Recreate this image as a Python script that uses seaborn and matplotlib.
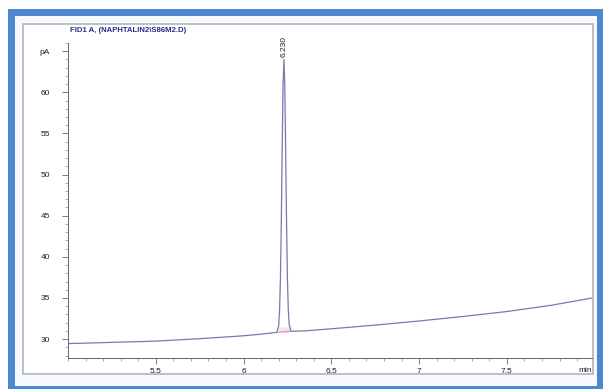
import matplotlib
matplotlib.use("Agg")
import matplotlib.pyplot as plt
from matplotlib.patches import Rectangle
from matplotlib.ticker import MultipleLocator
import seaborn as sns
import pandas as pd

# ---- data ----
time_min = [5.00, 5.25, 5.50, 5.75, 6.00, 6.10, 6.19, 6.20, 6.205, 6.21, 6.215, 6.22,
            6.225, 6.23, 6.235, 6.24, 6.245, 6.25, 6.255, 6.26, 6.27, 6.35, 6.50,
            6.75, 7.00, 7.25, 7.50, 7.75, 8.00]
signal_pA = [29.45, 29.60, 29.75, 30.05, 30.40, 30.60, 30.82, 31.60, 33.40, 37.20, 43.90, 52.90,
             60.80, 64.00, 60.85, 53.00, 44.00, 37.30, 33.50, 31.80, 30.95, 31.00, 31.25,
             31.70, 32.20, 32.75, 33.35, 34.10, 35.05]
integ_time = [6.20, 6.268]
integ_base = [30.84, 30.94]
peak_rt = 6.230
peak_label = "6.230"
x_ticks = [5.5, 6.0, 6.5, 7.0, 7.5]
x_labels = ["5.5", "6", "6.5", "7", "7.5"]
y_ticks = [30, 35, 40, 45, 50, 55, 60, 65]
y_labels = ["30", "35", "40", "45", "50", "55", "60", "pA"]
title = "FID1 A, (NAPHTALIN2\\S86M2.D)"

W, H = 603, 389
sns.set_style("white")
plt.rcParams["font.family"] = ["Liberation Sans", "DejaVu Sans"]

fig = plt.figure(figsize=(W / 100, H / 100), dpi=100)
fig.patch.set_facecolor("white")

def px(x0, y0, x1, y1):
    return (x0 / W, 1 - y1 / H), (x1 - x0) / W, (y1 - y0) / H

# blue outer frame
xy, w, h = px(8, 9, 603, 389)
fig.patches.append(Rectangle(xy, w, h, transform=fig.transFigure, facecolor="#4f86d0",
                             edgecolor="none", zorder=-3))
xy, w, h = px(15, 16, 597, 386)
fig.patches.append(Rectangle(xy, w, h, transform=fig.transFigure, facecolor="#f6f9fd",
                             edgecolor="none", zorder=-2))
xy, w, h = px(23, 24, 593, 374)
fig.patches.append(Rectangle(xy, w, h, transform=fig.transFigure, facecolor="white",
                             edgecolor="#b4b4b8", linewidth=1.2, zorder=-1))

ax = fig.add_axes([68 / W, 1 - 358 / H, (592 - 68) / W, (358 - 43) / H])
ax.set_zorder(5)
ax.set_facecolor("none")

df = pd.DataFrame({"t": time_min, "s": signal_pA})
sns.lineplot(data=df, x="t", y="s", ax=ax, sort=False, estimator=None,
             color="#7878b0", linewidth=0.9)
ax.plot(integ_time, integ_base, color="#e58ac8", linewidth=1.2, alpha=0.8)
ax.fill_between(integ_time, integ_base, [b + 0.6 for b in integ_base],
                color="#f3c6e4", alpha=0.5, linewidth=0)

ax.text(peak_rt, 64.3, peak_label, rotation=90, ha="center", va="bottom",
        fontsize=6, color="#222222", clip_on=False)

ax.set_xlim(5.0, 7.985)
ax.set_ylim(27.7, 66.0)
ax.set_xticks(x_ticks)
ax.set_xticklabels(x_labels)
ax.set_yticks(y_ticks)
ax.set_yticklabels(y_labels)
ax.xaxis.set_minor_locator(MultipleLocator(0.1))
ax.yaxis.set_minor_locator(MultipleLocator(1))
ax.tick_params(axis="both", which="major", direction="out", length=4, width=0.6,
               color="#666666", labelsize=6, labelcolor="#222222", bottom=True, left=True)
ax.tick_params(axis="both", which="minor", direction="out", length=2, width=0.5,
               color="#888888", bottom=True, left=True)
ax.tick_params(axis="y", which="major", pad=9)
ax.tick_params(axis="x", which="major", pad=3)
ax.set_xlabel("")
ax.set_ylabel("")
for s in ["top", "right"]:
    ax.spines[s].set_visible(False)
for s in ["left", "bottom"]:
    ax.spines[s].set_color("#666666")
    ax.spines[s].set_linewidth(0.7)

ax.text(1.0, -0.03, "min", transform=ax.transAxes, ha="right", va="top",
        fontsize=6, color="#222222")
fig.text(70 / W, 1 - 31 / H, title, ha="left", va="center", fontsize=5.6,
         fontweight="bold", color="#2b2b8c")

fig.savefig("out.png", dpi=100)
